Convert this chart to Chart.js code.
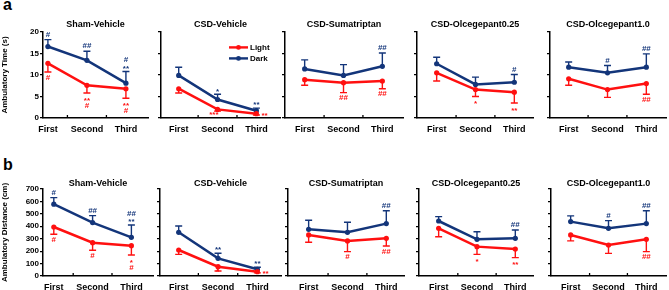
<!DOCTYPE html>
<html>
<head>
<meta charset="utf-8">
<script src="https://cdn.jsdelivr.net/npm/chart.js@4.4.1/dist/chart.umd.min.js"></script>
<style>
body{margin:0;background:#fff;width:669px;height:290px;position:relative;overflow:hidden;font-family:"Liberation Sans",Arial,sans-serif}
canvas{position:absolute}
.tag{position:absolute;font-weight:bold;font-size:16px;line-height:16px;color:#000}
</style>
</head>
<body>
<div class="tag" style="left:3px;top:-3px">a</div>
<div class="tag" style="left:3px;top:157px">b</div>
<script>
const categories = ['First', 'Second', 'Third'];
const groups = ['Sham-Vehicle', 'CSD-Vehicle', 'CSD-Sumatriptan', 'CSD-Olcegepant0.25', 'CSD-Olcegepant1.0'];

// a: Ambulatory Time (s)
const timeTicks = [0, 5, 10, 15, 20];
const timeLight = [[12.7, 7.6, 6.8], [6.8, 2.0, 1.0], [8.9, 8.2, 8.6], [10.5, 6.6, 6.0], [9.1, 6.6, 8.0]];
const timeLightErr = [[2.0, 1.8, 2.2], [1.0, 0.4, 0.3], [1.3, 2.3, 1.8], [1.9, 1.6, 2.5], [1.5, 1.8, 2.5]];
const timeDark = [[16.6, 13.4, 8.1], [9.9, 4.3, 1.7], [11.4, 9.9, 12.0], [12.6, 7.8, 8.3], [11.8, 10.5, 11.8]];
const timeDarkErr = [[1.6, 2.1, 2.7], [1.9, 1.2, 0.6], [2.1, 2.5, 3.1], [1.5, 1.7, 1.8], [1.2, 1.7, 3.1]];
const timeLightMarks = [['#', '**\n#', '**\n#'], ['', '***', '**'], ['', '##', '##'], ['', '*', '**'], ['', '', '##']];
const timeDarkMarks = [['#', '##', '#\n**'], ['', '*', '**'], ['', '', '##'], ['', '', '#'], ['', '#', '##']];

// b: Ambulatory Distance (cm)
const distTicks = [0, 100, 200, 300, 400, 500, 600, 700];
const distLight = [[394, 268, 244], [209, 75, 35], [330, 282, 303], [383, 236, 217], [330, 249, 295]];
const distLightErr = [[59, 61, 75], [35, 35, 10], [59, 86, 62], [67, 62, 69], [48, 67, 99]];
const distDark = [[577, 429, 311], [351, 142, 54], [375, 351, 421], [442, 295, 303], [437, 383, 421]];
const distDarkErr = [[53, 56, 99], [51, 41, 16], [73, 81, 104], [35, 61, 67], [46, 62, 104]];
const distLightMarks = [['#', '#', '*\n#'], ['', '*', '**'], ['', '#', '##'], ['', '*', '**'], ['', '', '##']];
const distDarkMarks = [['#', '##', '##\n**'], ['', '**', '**'], ['', '', '##'], ['', '', '##'], ['', '#', '##']];

const LIGHT = '#ff1010';
const DARK = '#13357a';
const FONT = '"Liberation Sans", Arial, sans-serif';

const rows = [
    {top: 31.5, bottom: 117.5, titleY: 24, yTitle: 'Ambulatory Time (s)', ticks: timeTicks,
     light: timeLight, lightErr: timeLightErr, dark: timeDark, darkErr: timeDarkErr,
     lightMarks: timeLightMarks, darkMarks: timeDarkMarks},
    {top: 189, bottom: 276, titleY: 183.5, yTitle: 'Ambulatory Distance (cm)', ticks: distTicks,
     light: distLight, lightErr: distLightErr, dark: distDark, darkErr: distDarkErr,
     lightMarks: distLightMarks, darkMarks: distDarkMarks}
];
// axis left, axis right, x of First, x of Third
const frames = [
    [[43, 150, 48, 127.5], [161, 282, 179, 258], [285, 405, 305, 384], [417, 535, 437, 516], [550, 668, 569, 648]],
    [[43, 155, 54, 133], [160, 283, 179, 259], [288, 406, 309, 388], [419, 535, 439, 517], [551, 668, 571, 648]]
];
// where the light marks sit next to the point instead of under the bar
const sideMarks = [null, 'left', 'right'];

const extras = {
    id: 'extras',
    afterDatasetsDraw(chart, args, opts) {
        const ctx = chart.ctx, xs = chart.scales.x, ys = chart.scales.y;
        ctx.save();
        ctx.strokeStyle = '#000';
        ctx.lineWidth = 1.3;
        [1.5, 2.5].forEach(v => {
            const px = xs.getPixelForValue(v);
            ctx.beginPath();
            ctx.moveTo(px, ys.bottom);
            ctx.lineTo(px, ys.bottom - 3);
            ctx.stroke();
        });
        chart.data.datasets.forEach(ds => {
            ctx.strokeStyle = ds.borderColor;
            ctx.fillStyle = ds.borderColor;
            ctx.lineWidth = 1.4;
            ds.data.forEach((p, j) => {
                const px = xs.getPixelForValue(p.x);
                const py = ys.getPixelForValue(p.y);
                const pe = ys.getPixelForValue(p.y + ds.dir * ds.err[j]);
                ctx.beginPath();
                ctx.moveTo(px, py);
                ctx.lineTo(px, pe);
                ctx.moveTo(px - 3.5, pe);
                ctx.lineTo(px + 3.5, pe);
                ctx.stroke();

                const text = ds.marks[j];
                if (!text) return;
                ctx.font = 'bold 8px ' + FONT;
                ctx.textBaseline = 'middle';
                const lines = text.split('\n');
                const side = ds.side ? ds.side[j] : null;
                if (side == 'left') {
                    ctx.textAlign = 'right';
                    ctx.fillText(text, px + 1, py + 5);
                    return;
                }
                if (side == 'right') {
                    ctx.textAlign = 'left';
                    ctx.fillText(text, px + 5, py + 2.5);
                    return;
                }
                ctx.textAlign = 'center';
                lines.forEach((line, k) => {
                    let cy;
                    if (ds.dir > 0) cy = pe - 5 - (lines.length - 1 - k) * 6.5;
                    else cy = pe + 5.5 + k * 7;
                    if (line.indexOf('*') >= 0) cy += 2;
                    ctx.fillText(line, px, cy);
                });
            });
        });
        if (opts.legend) {
            const a = chart.chartArea;
            ctx.font = 'bold 8px ' + FONT;
            ctx.textAlign = 'left';
            ctx.textBaseline = 'middle';
            chart.data.datasets.forEach((ds, i) => {
                const ly = a.top + 15.5 + i * 11;
                const x0 = a.right - 51, x1 = a.right - 32;
                ctx.strokeStyle = ds.borderColor;
                ctx.fillStyle = ds.borderColor;
                ctx.lineWidth = 2.4;
                ctx.beginPath();
                ctx.moveTo(x0, ly);
                ctx.lineTo(x1, ly);
                ctx.stroke();
                ctx.beginPath();
                ctx.arc((x0 + x1) / 2, ly, 2.4, 0, Math.PI * 2);
                ctx.fill();
                ctx.fillStyle = '#000';
                ctx.fillText(ds.label, x1 + 2, ly + 0.5);
            });
        }
        ctx.restore();
    }
};

function toPoints(values) {
    return values.map((v, j) => ({x: j + 1, y: v}));
}

rows.forEach((row, r) => {
    groups.forEach((group, g) => {
        const [L, R, p1, p3] = frames[r][g];
        const step = (p3 - p1) / 2;
        const yw = g == 0 ? L : 6;
        const canvasTop = row.titleY - 7.4;
        const canvasLeft = L - yw;
        const width = Math.round(R - L + yw + 2);
        const height = Math.round(row.bottom - canvasTop + 20);

        const canvas = document.createElement('canvas');
        canvas.width = width;
        canvas.height = height;
        canvas.style.left = canvasLeft + 'px';
        canvas.style.top = canvasTop + 'px';
        canvas.style.width = width + 'px';
        canvas.style.height = height + 'px';
        document.body.appendChild(canvas);

        new Chart(canvas, {
            type: 'line',
            data: {
                datasets: [{
                    label: 'Light',
                    data: toPoints(row.light[g]),
                    err: row.lightErr[g], marks: row.lightMarks[g], dir: -1,
                    side: g == 1 ? sideMarks : null,
                    borderColor: LIGHT, backgroundColor: LIGHT,
                    borderWidth: 2.5, pointRadius: 2.6, pointBorderWidth: 0
                }, {
                    label: 'Dark',
                    data: toPoints(row.dark[g]),
                    err: row.darkErr[g], marks: row.darkMarks[g], dir: 1,
                    borderColor: DARK, backgroundColor: DARK,
                    borderWidth: 2.5, pointRadius: 2.6, pointBorderWidth: 0
                }]
            },
            options: {
                responsive: false,
                animation: false,
                devicePixelRatio: 1,
                layout: {padding: {left: 0, right: 2, top: 0, bottom: 0}},
                plugins: {
                    legend: {display: false},
                    tooltip: {enabled: false},
                    title: {
                        display: true, text: group, fullSize: false, color: '#000',
                        font: {family: FONT, size: 9, weight: 'bold'},
                        padding: {top: 2, bottom: row.top - canvasTop - 12.8}
                    },
                    extras: {legend: r == 0 && g == 1}
                },
                scales: {
                    x: {
                        type: 'linear',
                        min: 1 - (p1 - L) / step,
                        max: 3 + (R - p3) / step,
                        afterBuildTicks: s => { s.ticks = categories.map((c, i) => ({value: i + 1})); },
                        afterFit: s => { s.height = 20; },
                        ticks: {
                            callback: v => categories[v - 1],
                            color: '#000', padding: 6, maxRotation: 0, autoSkip: false,
                            font: {family: FONT, size: 9, weight: 'bold'}
                        },
                        grid: {display: false, drawTicks: false},
                        border: {color: '#000', width: 1.5}
                    },
                    y: {
                        min: row.ticks[0],
                        max: row.ticks[row.ticks.length - 1],
                        afterBuildTicks: s => { s.ticks = row.ticks.map(v => ({value: v})); },
                        afterFit: s => { s.width = yw; },
                        ticks: {
                            callback: v => g == 0 ? v : '',
                            color: '#000', padding: 1, autoSkip: false,
                            font: {family: FONT, size: 8, weight: 'bold'}
                        },
                        grid: {drawOnChartArea: false, drawTicks: true, tickLength: 3, color: '#000', lineWidth: 1.2},
                        border: {color: '#000', width: 1.5},
                        title: {
                            display: g == 0, text: row.yTitle, color: '#000', padding: 0,
                            font: {family: FONT, size: 8, weight: 'bold'}
                        }
                    }
                }
            },
            plugins: [extras]
        });
    });
});
</script>
</body>
</html>
